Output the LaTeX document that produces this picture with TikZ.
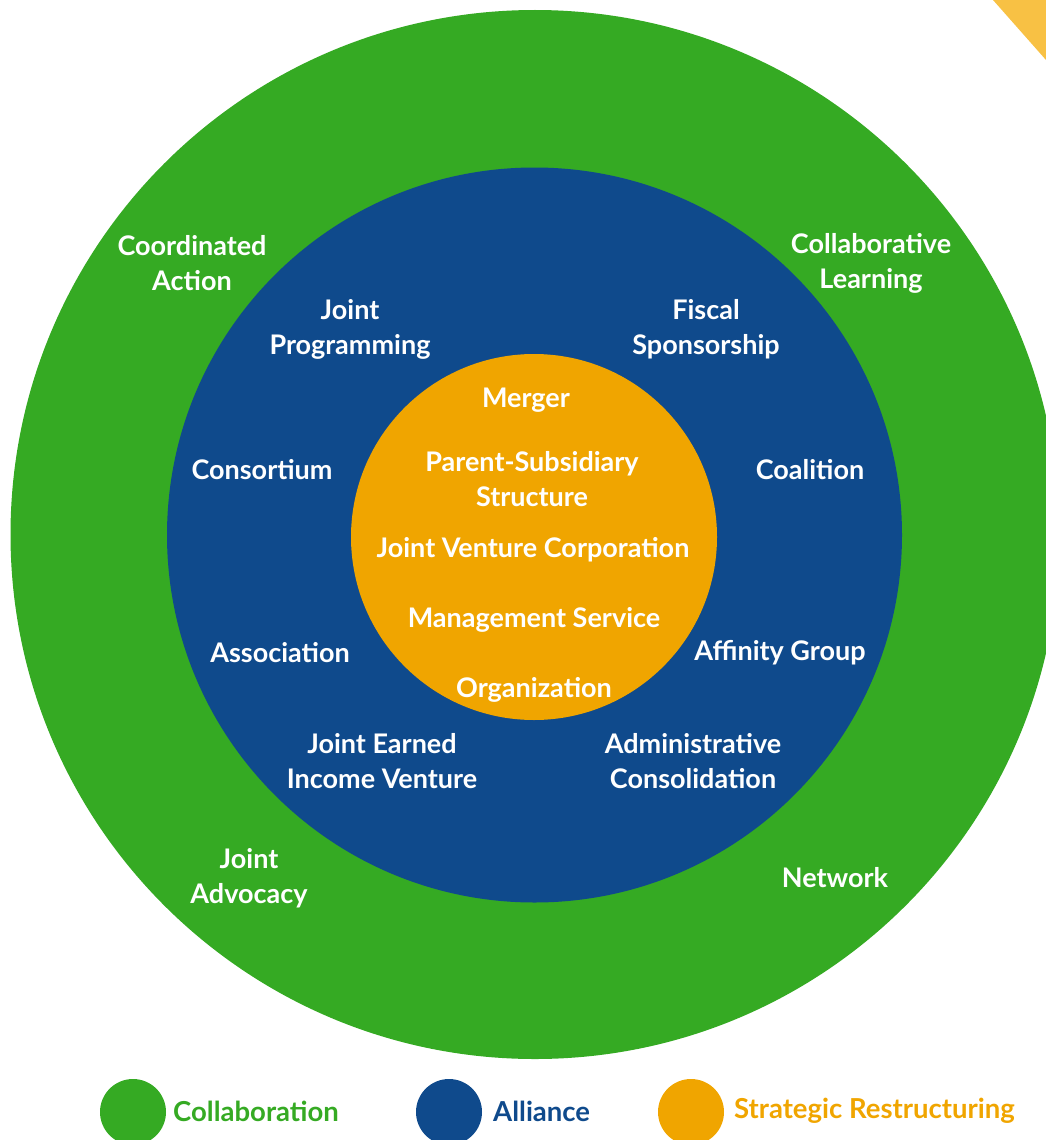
\documentclass[tikz,border=0pt]{standalone}
\usepackage{fontspec}
\setmainfont{Lato}
\definecolor{cgreen}{HTML}{35AA23}
\definecolor{cblue}{HTML}{0F4A8C}
\definecolor{corange}{HTML}{F0A500}
\definecolor{ctri}{HTML}{F8C144}
\begin{document}
\begin{tikzpicture}[x=1pt,y=-1pt,
  lbl/.style={text=white,font=\fontsize{27}{35}\selectfont\bfseries,align=center,inner sep=0pt,yshift=-2pt},
  leg/.style={font=\fontsize{27.5}{30}\selectfont\bfseries,anchor=west,inner sep=0pt}]
\useasboundingbox (0,0) rectangle (1046,1140);
\clip (0,0) rectangle (1046,1140);
\fill[ctri] (993,0) -- (1046,0) -- (1046,60) -- cycle;
\fill[cgreen] (535,534.5) circle[radius=524.5pt];
\fill[cblue] (534.5,535) circle[radius=367.5pt];
\fill[corange] (534,537) circle[radius=183pt];
% outer ring
\node[lbl] (coord) at (192,261) {Coordinated\\Action};
\node[lbl] (collab) at (871,261) {Collaborative\\Learning};
\node[lbl] (jadv) at (249,876) {Joint\\Advocacy};
\node[lbl] (net) at (835,876) {Network};
% middle ring
\node[lbl] (jprog) at (350,327) {Joint\\Programming};
\node[lbl] (fisc) at (706,327) {Fiscal\\Sponsorship};
\node[lbl] (cons) at (262,468) {Consortium};
\node[lbl] (coal) at (810,468) {Coalition};
\node[lbl] (assoc) at (280,651) {Association};
\node[lbl] (aff) at (780,651) {Affinity Group};
\node[lbl] (jeiv) at (382,759) {Joint Earned\\Income Venture};
\node[lbl] (admin) at (693,759) {Administrative\\Consolidation};
% inner
\node[lbl] (merger) at (526,398) {Merger};
\node[lbl] (parent) at (532,477) {Parent-Subsidiary\\Structure};
\node[lbl] (jvc) at (533,548) {Joint Venture Corporation};
\node[lbl] (mso1) at (534,618) {Management Service};
\node[lbl] (mso2) at (534,688) {Organization};
% legend
\fill[cgreen] (133,1112) circle[radius=33pt];
\fill[cblue] (449,1112) circle[radius=33pt];
\fill[corange] (691,1112) circle[radius=33pt];
\node[leg,text=cgreen] (lcollab) at (173,1111) {Collaboration};
\node[leg,text=cblue] (lall) at (493,1111) {Alliance};
\node[leg,text=corange] (lsr) at (734,1111) {Strategic Restructuring};
\end{tikzpicture}
\end{document}
